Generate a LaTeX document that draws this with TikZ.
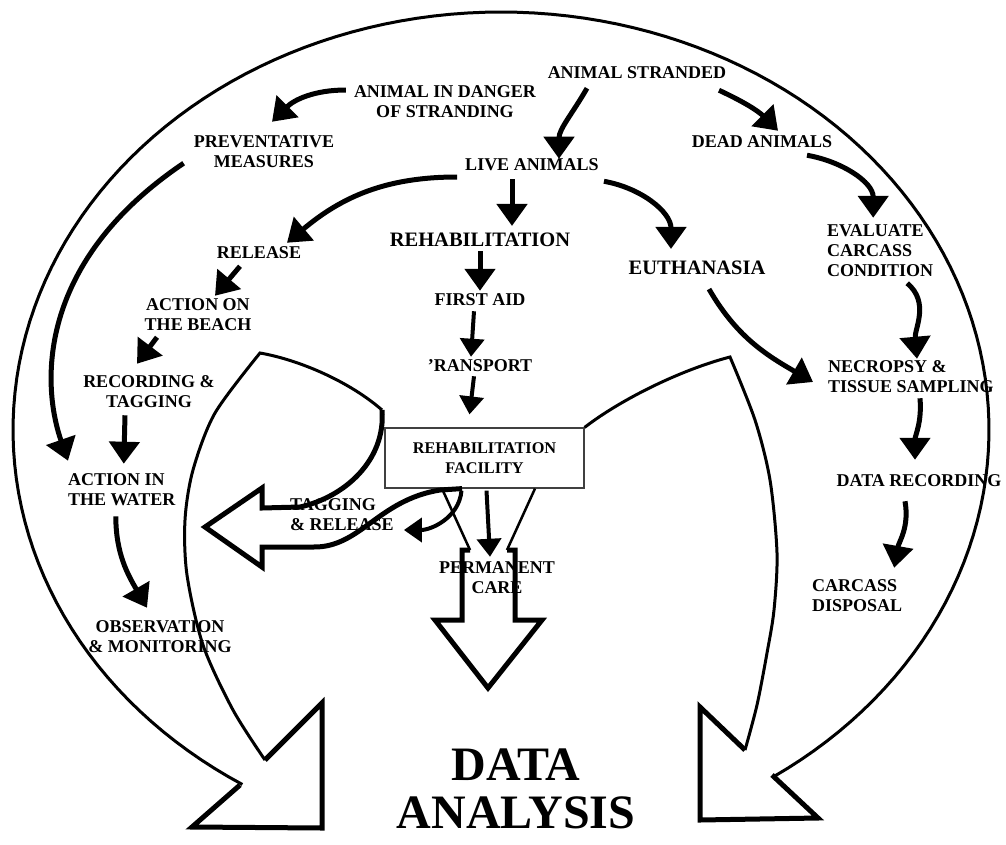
\documentclass[tikz,border=0pt]{standalone}
\usepackage{fontspec}
\setmainfont{Liberation Serif}
\usepackage{tikz}
\usetikzlibrary{arrows.meta, positioning}

\begin{document}
\begin{tikzpicture}[x=1pt, y=-1pt, inner sep=0pt,
        lbl/.style={font=\fontsize{18}{20}\selectfont\bfseries, align=center},
        lbll/.style={lbl, align=left, anchor=west},
        bigl/.style={font=\fontsize{20.5}{24}\selectfont\bfseries},
        flow/.style={line width=5pt, -{Triangle[width=30pt,length=22pt]}},
        flowsm/.style={line width=4pt, -{Triangle[width=24pt,length=18pt]}},
        rim/.style={line width=3pt, line join=miter},
        hollow/.style={line width=5pt, line join=miter}]
        \useasboundingbox (0,0) rectangle (1006,844);

        \node[lbl] (strand) at (637,73) {ANIMAL STRANDED};
        \node[lbl] (danger) at (445,102) {ANIMAL IN DANGER\\OF STRANDING};
        \node[lbl] (prevent) at (264,152) {PREVENTATIVE\\MEASURES};
        \node[lbl] (live) at (532,165) {LIVE ANIMALS};
        \node[lbl] (dead) at (762,142) {DEAD ANIMALS};
        \node[bigl] (rehab) at (480,240) {REHABILITATION};
        \node[bigl] (euth) at (697,268) {EUTHANASIA};
        \node[lbll] (evaluate) at (827,251) {EVALUATE\\CARCASS\\CONDITION};
        \node[lbl] (release) at (259,253) {RELEASE};
        \node[lbl, on grid] (firstaid) [below=60pt of rehab] {FIRST AID};
        \node[lbl] (beach) at (198,315) {ACTION ON\\THE BEACH};
        \node[lbl, on grid] (transport) [below=66pt of firstaid] {'RANSPORT};
        \node[lbll] (necropsy) at (828,377) {NECROPSY \&\\TISSUE SAMPLING};
        \node[lbl] (recording) at (149,392) {RECORDING \&\\TAGGING};
        \node[draw=black!75, line width=1.2pt, minimum width=199pt, minimum height=60pt,
              font=\fontsize{16.3}{20}\selectfont\bfseries, align=center]
              (facility) at (484.5,458) {REHABILITATION\\FACILITY};
        \node[lbll] (water) at (68,490) {ACTION IN\\THE WATER};
        \node[lbl] (datarec) at (919,481) {DATA RECORDING};
        \node[lbll] (tagging) at (290,515) {TAGGING\\\& RELEASE};
        \node[lbl] (permanent) at (497,578) {PERMANENT\\CARE};
        \node[lbll] (disposal) at (812,596) {CARCASS\\DISPOSAL};
        \node[lbl] (observe) at (160,637) {OBSERVATION\\\& MONITORING};
        \node[font=\fontsize{48}{48}\selectfont\bfseries, align=center] (analysis) at (516,789) {DATA\\ANALYSIS};

        \coordinate (pcl) at (470,550);
        \coordinate (pcr) at (507,550);

        % outer rim and its two hollow heads
        \draw[rim] plot[domain=-56:238, samples=150] ({501+488*cos(\x)}, {430-418*sin(\x)});
        \draw[hollow] (265,760) -- (322,703) -- (322,828) -- (192,827) -- (240,785);
        \draw[hollow] (745,750) -- (700,707) -- (700,820) -- (818,818) -- (772,775);

        % left lobe and tagging arrow
        \draw[rim] plot[smooth] coordinates {(265,760) (233,710) (203,645) (187,575) (185,520) (193,470) (215,413) (260,353)}
              .. controls (300,360) and (350,382) .. (382,410);
        \draw[hollow] (382,410) .. controls (386,460) and (345,497) .. (300,507) -- (262,508) -- (262,488)
              -- (205,527) -- (262,567) -- (262,547) -- (313,547)
              .. controls (360,548) and (378,500) .. (440,490) -- (facility.south -| 462,0);

        % right lobe
        \draw[rim] (facility.north east) .. controls (620,400) and (680,370) .. (730,357)
              -- plot[smooth] coordinates {(730,357) (755,420) (770,480) (777,553) (774,610) (767,653) (757,705) (745,750)};

        % permanent care arrow
        \draw[line width=2.5pt] ([xshift=-42.5pt]facility.south) -- (pcl);
        \draw[line width=2.5pt] ([xshift=50.5pt]facility.south) -- (pcr);
        \draw[hollow] (pcl) -- (462,550) -- (462,620) -- (435,620) -- (488,688) -- (542,620) -- (515,620) -- (515,550) -- (pcr);

        \path[flow]
        ([xshift=-8pt,yshift=12pt]danger.west) edge[out=180, in=45] ([xshift=8pt,yshift=14pt]prevent.north)
        ([xshift=-50pt,yshift=-9pt]strand.south) edge[out=240, in=90] ([xshift=27pt]live.north)
        ([xshift=82pt,yshift=-11pt]strand.south) edge[out=-25, in=135] ([xshift=16pt,yshift=5pt]dead.north)
        ([xshift=-8pt,yshift=-12pt]live.west) edge[out=180, in=40] ([xshift=28pt,yshift=4pt]release.north)
        ([xshift=-20pt,yshift=-8pt]live.south) edge ([xshift=32pt,yshift=7pt]rehab.north)
        ([xshift=5pt,yshift=-10pt]live.south east) edge[out=-10, in=90] ([xshift=-26pt,yshift=12pt]euth.north)
        ([xshift=45pt,yshift=-7pt]dead.south) edge[out=-10, in=90] ([xshift=-7pt,yshift=7pt]evaluate.north)
        ([yshift=-4pt]rehab.south) edge ([yshift=3pt]firstaid.north)
        ([xshift=-19pt,yshift=-7pt]release.south) edge ([xshift=17pt,yshift=3pt]beach.north)
        ([xshift=-41pt,yshift=-6pt]beach.south) edge ([xshift=-12pt,yshift=12pt]recording.north)
        ([xshift=-24pt,yshift=-7pt]recording.south) edge ([xshift=2pt,yshift=10pt]water.north)
        ([xshift=-6pt,yshift=-10pt]water.south) edge[out=270, in=120] ([xshift=-13pt,yshift=13pt]observe.north)
        ([xshift=12pt,yshift=-14pt]euth.south) edge[out=-60, in=150] ([xshift=-15pt,yshift=-5pt]necropsy.west)
        ([xshift=27pt,yshift=-6pt]evaluate.south) edge[out=-40, in=95] ([xshift=6pt,yshift=2pt]necropsy.north)
        ([xshift=9pt,yshift=-5pt]necropsy.south) edge[out=-85, in=90] ([xshift=-4pt,yshift=15pt]datarec.north)
        ([xshift=-14pt,yshift=-14pt]datarec.south) edge[out=-80, in=80] ([xshift=37pt,yshift=12pt]disposal.north);
        \draw[flow] ([xshift=-10pt,yshift=5pt]prevent.south west) .. controls (40,260) and (40,380) .. ([yshift=13pt]water.north west);

        \path[flowsm]
        ([xshift=-6pt,yshift=-5pt]firstaid.south) edge ([xshift=-9pt,yshift=3pt]transport.north)
        ([xshift=-6pt,yshift=-4pt]transport.south) edge ([xshift=-15pt,yshift=13pt]facility.north)
        ([xshift=-23pt,yshift=-2pt]facility.south) edge[out=265, in=0] ([xshift=10pt,yshift=-15pt]tagging.east)
        ([xshift=2pt,yshift=-2pt]facility.south) edge ([xshift=-7pt,yshift=5pt]permanent.north);
    \end{tikzpicture}
\end{document}
